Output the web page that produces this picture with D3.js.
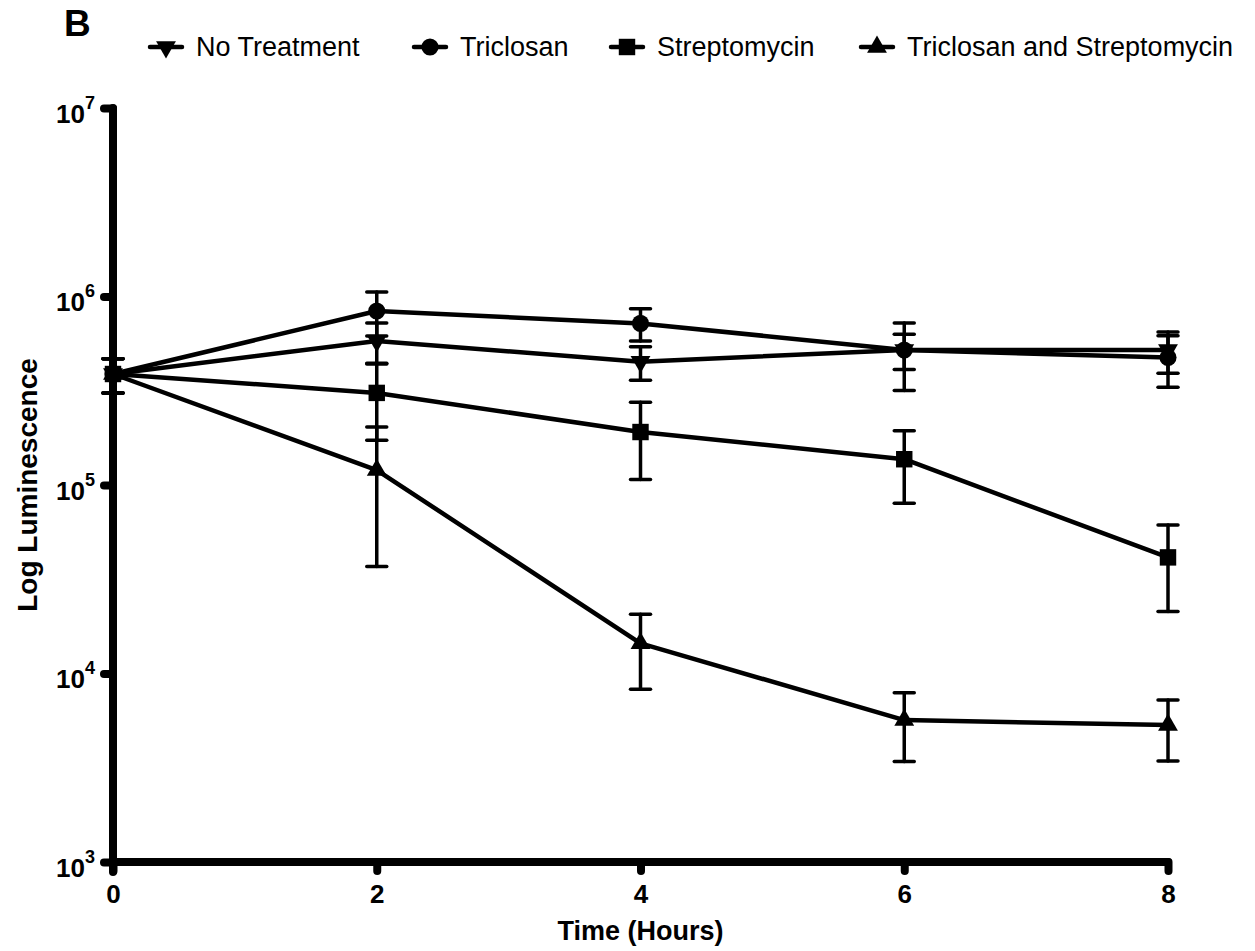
<!DOCTYPE html>
<meta charset="utf-8">
<style>
 body { margin: 0; background: #fff; }
 text { font-family: "Liberation Sans", Arial, sans-serif; fill: #000; }
 .axis path, .axis line { stroke: #000; stroke-width: 8; stroke-linecap: round; }
 .axis text { font-weight: bold; font-size: 26px; }
</style>
<body>
<div id="chart"></div>
<script src="https://cdnjs.cloudflare.com/ajax/libs/d3/7.8.5/d3.min.js"></script>
<script>
// time points (hours)
var hours = [0, 2, 4, 6, 8];

var seriesNames = ["No Treatment", "Triclosan", "Streptomycin", "Triclosan and Streptomycin"];

// mean luminescence and SEM
var noTreatment     = [3.88e5, 5.81e5, 4.51e5, 5.20e5, 5.20e5];
var noTreatmentSem  = [8.0e4, 1.42e5, 9.1e4, 1.10e5, 1.29e5];
var triclosan       = [3.88e5, 8.38e5, 7.20e5, 5.20e5, 4.75e5];
var triclosanSem    = [8.0e4, 2.20e5, 1.40e5, 2.03e5, 1.45e5];
var streptomycin    = [3.88e5, 3.08e5, 1.91e5, 1.37e5, 4.13e4];
var streptomycinSem = [8.0e4, 1.35e5, 8.4e4, 5.7e4, 2.0e4];
var combined        = [3.88e5, 1.20e5, 1.445e4, 5.66e3, 5.33e3];
var combinedSem     = [8.0e4, 8.3e4, 6.2e3, 2.25e3, 1.9e3];

var xTicks = [0, 2, 4, 6, 8];
var yTicks = [1e3, 1e4, 1e5, 1e6, 1e7];

(function(){
  var width = 1255, height = 951;

  var svg = d3.select("#chart").append("svg")
      .attr("width", width)
      .attr("height", height);

  var x = d3.scaleLinear().domain([0, 8]).range([113, 1168]);
  var y = d3.scaleLog().domain([1e3, 1e7]).range([862, 108]);

  var series = [
    {name: seriesNames[0], mean: noTreatment, sem: noTreatmentSem, shape: "down"},
    {name: seriesNames[1], mean: triclosan, sem: triclosanSem, shape: "circle"},
    {name: seriesNames[2], mean: streptomycin, sem: streptomycinSem, shape: "square"},
    {name: seriesNames[3], mean: combined, sem: combinedSem, shape: "up"}
  ];

  function marker(sel, shape) {
    var sym = shape === "circle" ? d3.symbolCircle : shape === "square" ? d3.symbolSquare : d3.symbolTriangle;
    var size = shape === "circle" ? 230 : shape === "square" ? 270 : 170;
    sel.append("path")
      .attr("d", d3.symbol().type(sym).size(size)())
      .attr("transform", function(){ return (shape === "down" ? "rotate(180)" : ""); })
      .attr("fill", "#000");
  }

  // axes
  var yAxis = d3.axisLeft(y).tickValues(yTicks).tickSize(9).tickSizeOuter(0).tickFormat("");
  var gy = svg.append("g").attr("class", "axis").attr("transform", "translate(113,0)").call(yAxis);
  gy.select(".domain").attr("d", "M0," + (y(1e3) + 10) + "V" + y(1e7));

  var xAxis = d3.axisBottom(x).tickValues(xTicks).tickSize(9).tickSizeOuter(0).tickFormat(d3.format("d"));
  var gx = svg.append("g").attr("class", "axis").attr("transform", "translate(0,862)").call(xAxis);
  gx.select(".domain").attr("d", "M" + x(0) + ",0H" + x(8));
  gx.selectAll(".tick text").attr("y", 0).attr("dy", 41);

  // y tick labels with superscript exponents
  gy.selectAll(".tick").append("text")
    .attr("x", -18).attr("y", 14)
    .attr("text-anchor", "end")
    .each(function(d){
      var t = d3.select(this);
      t.append("tspan").text("10");
      t.append("tspan").attr("font-size", "18px").attr("dy", -14).text(Math.round(Math.log10(d)));
    });

  // axis titles
  svg.append("text")
    .attr("x", x(4)).attr("y", 940)
    .attr("text-anchor", "middle")
    .style("font-weight", "bold").style("font-size", "27px")
    .text("Time (Hours)");

  svg.append("text")
    .attr("transform", "translate(37," + y(Math.sqrt(1e3 * 1e7)) + ") rotate(-90)")
    .attr("text-anchor", "middle")
    .style("font-weight", "bold").style("font-size", "28px")
    .text("Log Luminescence");

  // error bars
  var plot = svg.append("g");
  series.forEach(function(s){
    var g = plot.append("g");
    hours.forEach(function(h, i){
      var top = y(s.mean[i] + s.sem[i]), bot = y(s.mean[i] - s.sem[i]), cx = x(h);
      g.append("line").attr("x1", cx).attr("x2", cx).attr("y1", top).attr("y2", bot);
      g.append("line").attr("x1", cx - 10).attr("x2", cx + 10).attr("y1", top).attr("y2", top);
      g.append("line").attr("x1", cx - 10).attr("x2", cx + 10).attr("y1", bot).attr("y2", bot);
    });
    g.selectAll("line").attr("stroke", "#000").attr("stroke-width", 3.5).attr("stroke-linecap", "round");
  });

  // lines
  var line = d3.line().x(function(d){ return x(d[0]); }).y(function(d){ return y(d[1]); });
  series.forEach(function(s){
    plot.append("path")
      .datum(hours.map(function(h, i){ return [h, s.mean[i]]; }))
      .attr("d", line)
      .attr("fill", "none").attr("stroke", "#000").attr("stroke-width", 4.5)
      .attr("stroke-linejoin", "round");
  });

  // markers
  series.forEach(function(s){
    hours.forEach(function(h, i){
      var g = plot.append("g").attr("transform", "translate(" + x(h) + "," + y(s.mean[i]) + ")");
      marker(g, s.shape);
    });
  });

  // panel letter
  svg.append("text")
    .attr("x", 64).attr("y", 36)
    .style("font-weight", "bold").style("font-size", "37px")
    .text("B");

  // legend
  var legendX = [166, 430, 627, 877];
  var legend = svg.append("g");
  series.forEach(function(s, i){
    var g = legend.append("g").attr("transform", "translate(" + legendX[i] + ",47)");
    g.append("line").attr("x1", -16).attr("x2", 16)
      .attr("stroke", "#000").attr("stroke-width", 4.5).attr("stroke-linecap", "round");
    marker(g, s.shape);
    g.append("text").attr("x", 30).attr("y", 9)
      .style("font-size", "27px")
      .text(s.name);
  });
})();
</script>
</body>
